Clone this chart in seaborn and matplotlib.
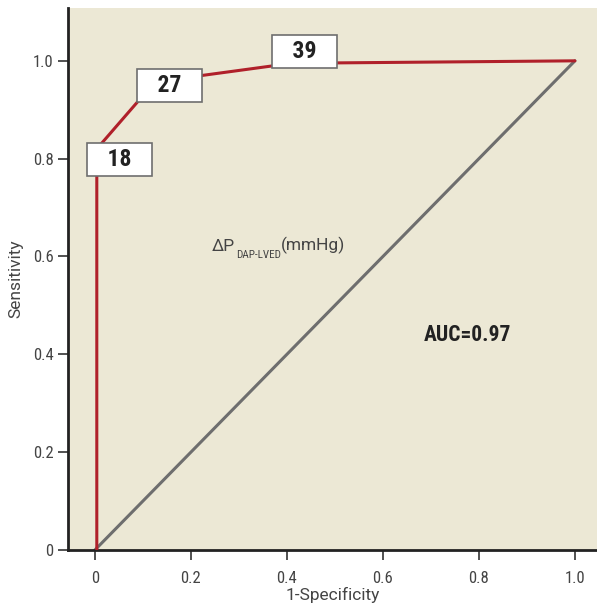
import numpy as np
import pandas as pd
import matplotlib
matplotlib.use("Agg")
import matplotlib.pyplot as plt
import seaborn as sns

# ROC curve points
fpr = [0.004, 0.004, 0.125, 0.41, 1.0]
tpr = [0.0, 0.82, 0.957, 0.995, 1.0]
ref_x = [0.0, 1.0]
ref_y = [0.0, 1.0]

# cut-off labels (mmHg) and where their boxes sit
cut_labels = ["18", "27", "39"]
cut_x = [0.052, 0.156, 0.4375]
cut_y = [0.798, 0.949, 1.02]

x_ticks = [0, 0.2, 0.4, 0.6, 0.8, 1.0]
x_ticklabels = ["0", "0.2", "0.4", "0.6", "0.8", "1.0"]
y_ticks = [0, 0.2, 0.4, 0.6, 0.8, 1.0]
y_ticklabels = ["0", "0.2", "0.4", "0.6", "0.8", "1.0"]

sns.set_style("ticks")
plt.rcParams['font.family'] = ['Roboto Condensed', 'DejaVu Sans']
plain = ['Roboto', 'DejaVu Sans']

fig = plt.figure(figsize=(5.97, 6.07), dpi=100)
ax = fig.add_axes([68 / 597, 57 / 607, 529 / 597, 542 / 607])
ax.set_facecolor("#ECE8D5")

roc = pd.DataFrame({"fpr": fpr, "tpr": tpr})
ref = pd.DataFrame({"x": ref_x, "y": ref_y})
sns.lineplot(data=ref, x="x", y="y", color="#6E6E6E", lw=2.2, sort=False,
             estimator=None, ax=ax, zorder=2)
sns.lineplot(data=roc, x="fpr", y="tpr", color="#B0202A", lw=2.2, sort=False,
             estimator=None, ax=ax, zorder=3)

for lab, cx, cy in zip(cut_labels, cut_x, cut_y):
    ax.text(cx, cy, "  \u2009" + lab + "\u2009  ", ha="center", va="center",
            fontsize=17, fontweight="bold", color="#222222", zorder=5,
            bbox=dict(boxstyle="square,pad=0.21", fc="white", ec="#6E6E6E", lw=1.2))

# Delta P label built from three pieces
t1 = ax.text(0.244, 0.605, "ΔP", fontsize=12.5, color="#444444", va="bottom",
             family=plain)
t2 = ax.annotate("DAP-LVED", xy=(1, 0), xycoords=t1, xytext=(0.5, -4),
                 textcoords="offset points", fontsize=8, color="#444444",
                 va="bottom", ha="left")
ax.annotate("(mmHg)", xy=(1, 0), xycoords=t2, xytext=(0, 4),
            textcoords="offset points", fontsize=12.5, color="#444444",
            va="bottom", ha="left", family=plain)

ax.text(0.777, 0.44, "AUC=0.97", ha="center", va="center", fontsize=15.5,
        fontweight="bold", color="#222222")

ax.set_xlim(-0.056, 1.046)
ax.set_ylim(0, 1.108)
ax.set_xticks(x_ticks)
ax.set_xticklabels(x_ticklabels)
ax.set_yticks(y_ticks)
ax.set_yticklabels(y_ticklabels)
ax.tick_params(axis="both", direction="out", length=7, width=1.2, color="#333333",
               labelsize=12, labelcolor="#444444")
ax.tick_params(axis="x", pad=8)
ax.set_xlabel("1-Specificity", fontsize=12.5, color="#444444", labelpad=1,
              family=plain)
ax.set_ylabel("Sensitivity", fontsize=12.5, color="#444444", labelpad=7,
              family=plain)

for side in ["top", "right"]:
    ax.spines[side].set_visible(False)
for side in ["left", "bottom"]:
    ax.spines[side].set_color("#222222")
    ax.spines[side].set_linewidth(2)

fig.savefig("out.png", dpi=100, facecolor="white")
